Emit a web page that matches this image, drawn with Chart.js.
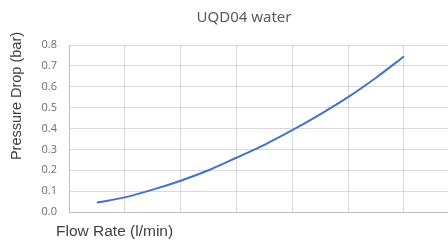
<!DOCTYPE html>
<html><head><meta charset="utf-8">
<script src="https://cdn.jsdelivr.net/npm/chart.js@4/dist/chart.umd.min.js"></script>
<style>html,body{margin:0;padding:0;background:#fff}#wrap{width:448px;height:240px}</style>
</head><body><div id="wrap"><canvas id="c" width="448" height="240"></canvas></div>
<script>
const flowRate = [0.5, 1, 1.5, 2, 2.5, 3, 3.5, 4, 4.5, 5, 5.5, 6];
const pressureDrop = [0.045, 0.07, 0.107, 0.15, 0.2, 0.26, 0.322, 0.392, 0.468, 0.55, 0.643, 0.745];
const yTicks = [0.0, 0.1, 0.2, 0.3, 0.4, 0.5, 0.6, 0.7, 0.8];
const chartTitle = 'UQD04 water';
const xTitle = 'Flow Rate (l/min)';
const yTitle = 'Pressure Drop (bar)';

const textPlugin = {
  id: 'texts',
  afterDraw(chart) {
    const ctx = chart.ctx;
    ctx.save();
    ctx.fillStyle = '#595959';
    ctx.font = '15px "Noto Sans", "Open Sans", sans-serif';
    ctx.textAlign = 'center';
    ctx.textBaseline = 'middle';
    ctx.fillText(chartTitle, 244, 18);
    ctx.fillStyle = '#404040';
    ctx.font = '15.5px "Liberation Sans", Arial, sans-serif';
    ctx.textAlign = 'left';
    ctx.fillText(xTitle, 56, 232);
    ctx.translate(17, 96);
    ctx.rotate(-Math.PI / 2);
    ctx.textAlign = 'center';
    ctx.font = '14.5px "Liberation Sans", Arial, sans-serif';
    ctx.fillText(yTitle, 0, 0);
    ctx.restore();
  }
};

new Chart(document.getElementById('c'), {
  type: 'line',
  data: {
    datasets: [{
      data: flowRate.map((x, i) => ({x: x, y: pressureDrop[i]})),
      borderColor: '#4472C4',
      borderWidth: 2,
      pointRadius: 0,
      cubicInterpolationMode: 'monotone',
      fill: false
    }]
  },
  options: {
    responsive: false,
    animation: false,
    layout: {padding: {top: 45, left: 0, right: 0, bottom: 28}},
    plugins: {legend: {display: false}, tooltip: {enabled: false}},
    scales: {
      x: {
        type: 'linear', min: 0, max: 6.79,
        afterBuildTicks(s) { s.ticks = s.ticks.filter(t => Number.isInteger(t.value)); },
        afterFit(s) { s.height = 0; },
        ticks: {display: false, stepSize: 1},
        grid: {color: '#d9d9d9', lineWidth: 1, drawTicks: false},
        border: {color: '#bfbfbf'}
      },
      y: {
        min: 0, max: 0.8,
        afterBuildTicks(s) { s.ticks = yTicks.map(v => ({value: v})); },
        afterFit(s) { s.width = 69; },
        ticks: {
          color: '#6b6b6b',
          font: {family: '"Open Sans", sans-serif', size: 11},
          padding: 12,
          callback: v => Number(v).toFixed(1)
        },
        grid: {color: '#d9d9d9', lineWidth: 1, drawTicks: false},
        border: {color: '#bfbfbf'}
      }
    }
  },
  plugins: [textPlugin]
});
</script></body></html>
